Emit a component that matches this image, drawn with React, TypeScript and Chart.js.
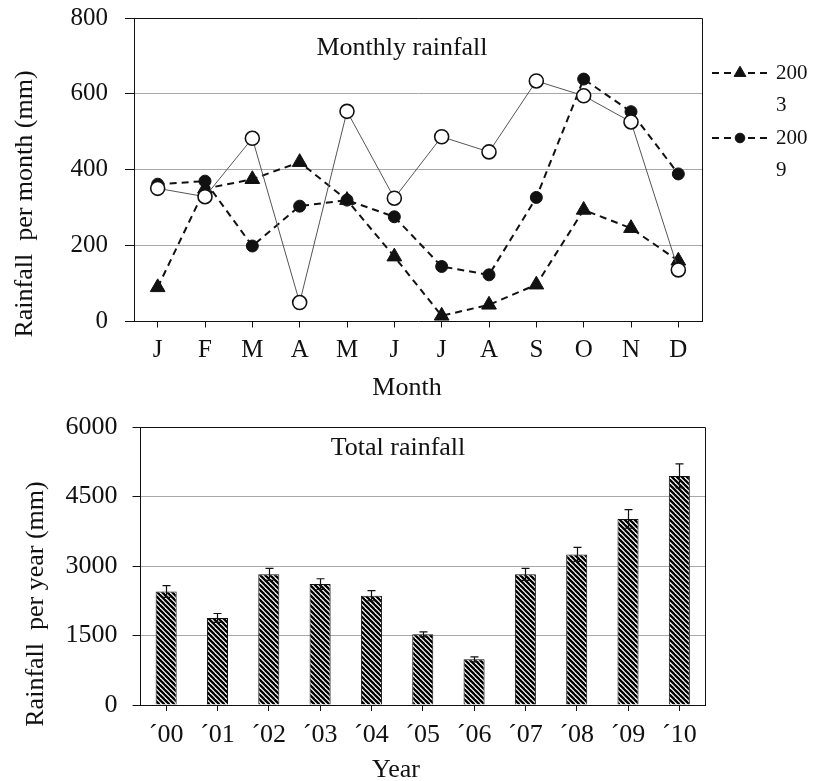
import React, { useEffect, useRef } from 'react';
import { Chart, registerables } from 'chart.js';
import { drawPoint } from 'chart.js/helpers';

Chart.register(...registerables);

// ---------- data ----------
const months = ['J', 'F', 'M', 'A', 'M', 'J', 'J', 'A', 'S', 'O', 'N', 'D'];
const rain2003 = [90, 350, 375, 420, 320, 171, 15, 44, 97, 294, 246, 160];
const rain2009 = [362, 370, 199, 304, 320, 276, 145, 123, 327, 639, 553, 389];
const rainOpen = [351, 329, 483, 50, 554, 325, 487, 447, 634, 595, 526, 136];

const years = ['´00', '´01', '´02', '´03', '´04', '´05', '´06', '´07', '´08', '´09', '´10'];
const totalRain = [2450, 1880, 2820, 2610, 2360, 1525, 985, 2820, 3250, 4015, 4945];
const totalErr = [125, 95, 130, 115, 110, 55, 55, 130, 150, 200, 260];

// ---------- style ----------
const SERIF = '"Liberation Serif", "Times New Roman", serif';
const INK = '#111111';
const GRID = '#a8a8a8';

// ---------- plugins ----------
const frameBox = {
  id: 'frameBox',
  afterDraw(chart: any) {
    const { ctx, chartArea } = chart;
    ctx.save();
    ctx.strokeStyle = INK;
    ctx.lineWidth = 1;
    ctx.beginPath();
    ctx.moveTo(chartArea.left, chartArea.top + 0.5);
    ctx.lineTo(chartArea.right + 0.5, chartArea.top + 0.5);
    ctx.lineTo(chartArea.right + 0.5, chartArea.bottom);
    ctx.stroke();
    ctx.restore();
  },
};

const textLabels = {
  id: 'textLabels',
  afterDraw(chart: any, _args: any, opts: any) {
    const { ctx } = chart;
    (opts.items || []).forEach((it: any) => {
      ctx.save();
      ctx.fillStyle = INK;
      ctx.font = `${it.size}px ${SERIF}`;
      ctx.textAlign = 'center';
      ctx.textBaseline = 'alphabetic';
      ctx.translate(it.x, it.y);
      if (it.rotate) ctx.rotate((it.rotate * Math.PI) / 180);
      ctx.fillText(it.text, 0, 0);
      ctx.restore();
    });
  },
};

function wrapChars(ctx: CanvasRenderingContext2D, text: string, maxWidth: number) {
  const lines: string[] = [];
  let cur = '';
  for (const ch of text) {
    if (cur && ctx.measureText(cur + ch).width > maxWidth) {
      lines.push(cur);
      cur = ch;
    } else cur += ch;
  }
  if (cur) lines.push(cur);
  return lines;
}

const sideLegend = {
  id: 'sideLegend',
  afterDraw(chart: any, _args: any, opts: any) {
    const { ctx } = chart;
    let y = opts.y0;
    chart.data.datasets.forEach((ds: any) => {
      if (!ds.label) return;
      ctx.save();
      ctx.strokeStyle = ds.borderColor;
      ctx.lineWidth = ds.borderWidth;
      ctx.setLineDash(ds.borderDash || []);
      ctx.beginPath();
      ctx.moveTo(opts.x0, y);
      ctx.lineTo(opts.x1, y);
      ctx.stroke();
      ctx.setLineDash([]);
      ctx.fillStyle = ds.pointBackgroundColor;
      ctx.strokeStyle = ds.pointBorderColor;
      ctx.lineWidth = ds.pointBorderWidth;
      drawPoint(
        ctx,
        { pointStyle: ds.pointStyle, radius: ds.pointRadius * opts.markerScale, rotation: 0, borderWidth: ds.pointBorderWidth },
        (opts.x0 + opts.x1) / 2,
        y
      );
      ctx.fillStyle = INK;
      ctx.font = `${opts.size}px ${SERIF}`;
      ctx.textAlign = 'left';
      ctx.textBaseline = 'middle';
      const lines = wrapChars(ctx, ds.label, opts.maxTextWidth);
      lines.forEach((ln: string, i: number) => ctx.fillText(ln, opts.textX, y + i * opts.lineGap));
      ctx.restore();
      y += opts.itemGap;
    });
  },
};

const errorBars = {
  id: 'errorBars',
  afterDatasetsDraw(chart: any, _args: any, opts: any) {
    const { ctx } = chart;
    const yScale = chart.scales.y;
    chart.data.datasets.forEach((ds: any, di: number) => {
      if (!ds.errors) return;
      const meta = chart.getDatasetMeta(di);
      meta.data.forEach((bar: any, i: number) => {
        const v = ds.data[i];
        const e = ds.errors[i];
        const x = Math.round(bar.x) + 0.5;
        const yTop = yScale.getPixelForValue(v + e);
        const yBot = yScale.getPixelForValue(v - e);
        const half = opts.capWidth / 2;
        ctx.save();
        ctx.strokeStyle = INK;
        ctx.lineWidth = 1.2;
        ctx.beginPath();
        ctx.moveTo(x, yTop);
        ctx.lineTo(x, yBot);
        ctx.moveTo(x - half, yTop);
        ctx.lineTo(x + half, yTop);
        ctx.moveTo(x - half, yBot);
        ctx.lineTo(x + half, yBot);
        ctx.stroke();
        ctx.restore();
      });
    });
  },
};

function makeHatch(target: HTMLCanvasElement) {
  const size = 5;
  const c = document.createElement('canvas');
  c.width = size;
  c.height = size;
  const g = c.getContext('2d')!;
  g.fillStyle = '#ffffff';
  g.fillRect(0, 0, size, size);
  g.strokeStyle = '#000000';
  g.lineWidth = 2.3;
  for (let k = -size; k <= size; k += size) {
    g.beginPath();
    g.moveTo(k - 1, -1);
    g.lineTo(k + size + 1, size + 1);
    g.stroke();
  }
  return target.getContext('2d')!.createPattern(c, 'repeat');
}

const fixY = (w: number) => (s: any) => {
  s.width = w;
  s.paddingTop = 0;
  s.paddingBottom = 0;
};
const fixX = (h: number) => (s: any) => {
  s.height = h;
  s.paddingLeft = 0;
  s.paddingRight = 0;
};

export default function App() {
  const topRef = useRef<HTMLCanvasElement>(null);
  const botRef = useRef<HTMLCanvasElement>(null);

  useEffect(() => {
    const tickFont = (size: number) => ({ family: SERIF, size });

    const top = new Chart(topRef.current!, {
      type: 'line',
      data: {
        labels: months,
        datasets: [
          {
            label: '2003',
            data: rain2003,
            borderColor: INK,
            borderWidth: 2,
            borderDash: [7, 5],
            pointStyle: 'triangle',
            pointRadius: 8.5,
            pointBackgroundColor: INK,
            pointBorderColor: INK,
            pointBorderWidth: 1,
            tension: 0,
            fill: false,
            order: 2,
          } as any,
          {
            label: '2009',
            data: rain2009,
            borderColor: INK,
            borderWidth: 2,
            borderDash: [7, 5],
            pointStyle: 'circle',
            pointRadius: 6,
            pointBackgroundColor: INK,
            pointBorderColor: INK,
            pointBorderWidth: 1,
            tension: 0,
            fill: false,
            order: 1,
          },
          {
            data: rainOpen,
            borderColor: '#555555',
            borderWidth: 1,
            pointStyle: 'circle',
            pointRadius: 7,
            pointBackgroundColor: '#ffffff',
            pointBorderColor: INK,
            pointBorderWidth: 1.6,
            tension: 0,
            fill: false,
            order: 0,
          },
        ],
      },
      options: {
        responsive: false,
        animation: false,
        devicePixelRatio: 1,
        layout: { padding: { left: 0, right: 116, top: 18, bottom: 0 } },
        plugins: {
          legend: { display: false },
          tooltip: { enabled: false },
          textLabels: {
            items: [
              { text: 'Monthly rainfall', x: 402, y: 55, size: 26 },
              { text: 'Month', x: 407, y: 395, size: 26 },
              { text: 'Rainfall  per month (mm)', x: 32, y: 204, size: 26, rotate: -90 },
            ],
          },
          sideLegend: {
            x0: 712,
            x1: 768,
            textX: 776,
            y0: 73,
            itemGap: 65,
            lineGap: 32,
            size: 21,
            maxTextWidth: 34,
            markerScale: 0.8,
          },
        } as any,
        scales: {
          x: {
            offset: true,
            grid: { offset: false, drawOnChartArea: false, drawTicks: true, tickLength: 6, tickColor: INK },
            border: { color: INK, width: 1 },
            ticks: { color: INK, font: tickFont(25), padding: 8, autoSkip: false, maxRotation: 0 },
            afterFit: fixX(78.5),
          },
          y: {
            min: 0,
            max: 800,
            ticks: { stepSize: 200, color: INK, font: tickFont(25), padding: 17, callback: (v: any) => String(v) },
            grid: {
              color: (c: any) => (c.tick && (c.tick.value === 0 || c.tick.value === 800) ? 'rgba(0,0,0,0)' : GRID),
              tickColor: INK,
              tickLength: 9,
            },
            border: { color: INK, width: 1 },
            afterFit: fixY(134),
          },
        },
      },
      plugins: [frameBox, textLabels, sideLegend],
    });

    const hatch = makeHatch(botRef.current!);
    const bottom = new Chart(botRef.current!, {
      type: 'bar',
      data: {
        labels: years,
        datasets: [
          {
            label: 'Total rainfall',
            data: totalRain,
            errors: totalErr,
            backgroundColor: hatch,
            borderColor: INK,
            borderWidth: 1,
            categoryPercentage: 1,
            barPercentage: 0.41,
          } as any,
        ],
      },
      options: {
        responsive: false,
        animation: false,
        devicePixelRatio: 1,
        layout: { padding: { left: 0, right: 818 - 705, top: 27, bottom: 0 } },
        plugins: {
          legend: { display: false },
          tooltip: { enabled: false },
          errorBars: { capWidth: 8 },
          textLabels: {
            items: [
              { text: 'Total rainfall', x: 398, y: 55, size: 26 },
              { text: 'Year', x: 396, y: 377, size: 26 },
              { text: 'Rainfall  per year (mm)', x: 43, y: 204, size: 26, rotate: -90 },
            ],
          },
        } as any,
        scales: {
          x: {
            offset: true,
            grid: { offset: false, drawOnChartArea: false, drawTicks: true, tickLength: 6, tickColor: INK },
            border: { color: INK, width: 1 },
            ticks: { color: INK, font: tickFont(26), padding: 9, autoSkip: false, maxRotation: 0 },
            afterFit: fixX(381 - 305),
          },
          y: {
            min: 0,
            max: 6000,
            ticks: { stepSize: 1500, color: INK, font: tickFont(26), padding: 15, callback: (v: any) => String(v) },
            grid: {
              color: (c: any) => (c.tick && (c.tick.value === 0 || c.tick.value === 6000) ? 'rgba(0,0,0,0)' : GRID),
              tickColor: INK,
              tickLength: 8,
            },
            border: { color: INK, width: 1 },
            afterFit: fixY(140.5),
          },
        },
      },
      plugins: [frameBox, textLabels, errorBars],
    });

    return () => {
      top.destroy();
      bottom.destroy();
    };
  }, []);

  return (
    <div style={{ position: 'fixed', left: 0, top: 0, width: 818, height: 781, background: '#ffffff' }}>
      <canvas
        ref={topRef}
        width={818}
        height={400}
        style={{ position: 'absolute', left: 0, top: 0, width: 818, height: 400 }}
      />
      <canvas
        ref={botRef}
        width={818}
        height={381}
        style={{ position: 'absolute', left: 0, top: 400, width: 818, height: 381 }}
      />
    </div>
  );
}
